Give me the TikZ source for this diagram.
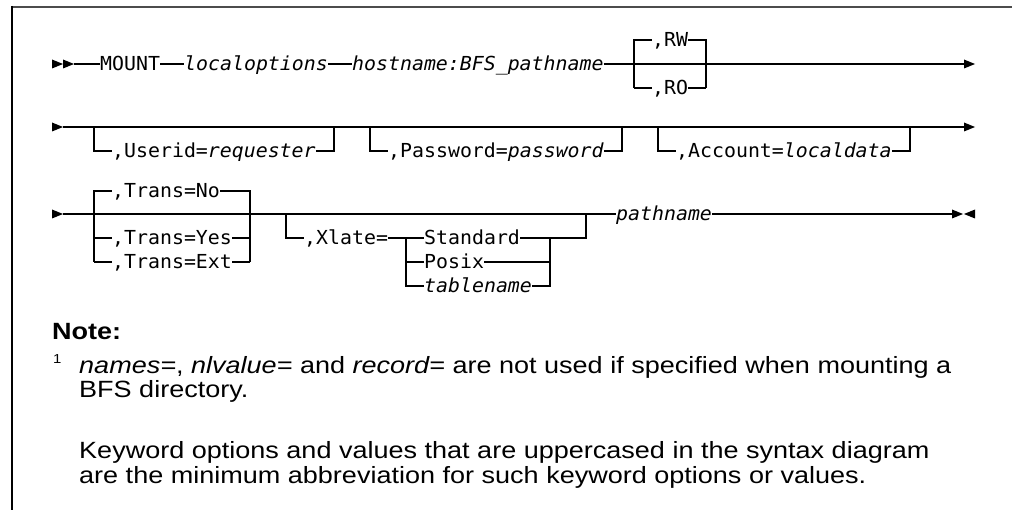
\documentclass[tikz,border=0pt]{standalone}
\usepackage{fontspec}
\setmainfont{Liberation Sans}
\newfontfamily\dmono[FakeStretch=1.03]{DejaVu Sans Mono}
\newfontfamily\notefont[FakeStretch=1.15]{Liberation Sans}
\newcommand\rtri[2]{\fill (#1,#2-4.5) -- (#1+11,#2) -- (#1,#2+4.5) -- cycle;}
\newcommand\ltri[2]{\fill (#1,#2-4.5) -- (#1-11,#2) -- (#1,#2+4.5) -- cycle;}
\tikzset{
  ln/.style={line width=1.1pt},
  mt/.style={font=\fontsize{19.3}{21}\dmono, inner sep=0pt, text height=14pt, text depth=0pt, anchor=west},
  nt/.style={font=\fontsize{23.5}{26}\notefont, inner sep=0pt, anchor=base west},
}
\begin{document}
\begin{tikzpicture}[x=1pt,y=-1pt]
\useasboundingbox (0,0) rectangle (1012,510);
% frame
\draw[line width=2.5pt, black!70] (11.3,7) -- (1012,7);
\draw[line width=1.3pt] (12,6) -- (12,510);

% ---------- row 1 ----------
\rtri{52}{64}\rtri{63}{64}
\coordinate (st1) at (74,64);
\coordinate (a1) at (964,64);
\rtri{964}{64}
\node[mt] (mount) at (100,64) {MOUNT};
\node[mt] (lopt) at (184,64) {\itshape localoptions};
\node[mt] (host) at (352,64) {\itshape hostname:BFS\_pathname};
\draw[ln] (st1) -- (mount);
\draw[ln] (mount) -- (lopt);
\draw[ln] (lopt) -- (host);
\draw[ln] (host) -- (a1);
\coordinate (b1tl) at (634,40); \coordinate (b1bl) at (634,88);
\coordinate (b1tr) at (706,40); \coordinate (b1br) at (706,88);
\node[mt] (rw) at (652,40) {,RW};
\node[mt] (ro) at (652,88) {,RO};
\draw[ln] (b1bl) -- (b1tl) -- (rw);
\draw[ln] (rw) -- (b1tr) -- (b1br);
\draw[ln] (b1bl) -- (ro);
\draw[ln] (ro) -- (b1br);

% ---------- row 2 ----------
\rtri{52}{127}
\coordinate (st2) at (63,127);
\coordinate (a2) at (964,127);
\rtri{964}{127}
\draw[ln] (st2) -- (a2);
\coordinate (u1) at (94,127); \coordinate (u2) at (94,151);
\coordinate (u3) at (334,151); \coordinate (u4) at (334,127);
\node[mt] (uid) at (112,151) {,Userid=\itshape requester};
\draw[ln] (u1) -- (u2) -- (uid);
\draw[ln] (uid) -- (u3) -- (u4);
\coordinate (p1) at (370,127); \coordinate (p2) at (370,151);
\coordinate (p3) at (622,151); \coordinate (p4) at (622,127);
\node[mt] (pwd) at (388,151) {,Password=\itshape password};
\draw[ln] (p1) -- (p2) -- (pwd);
\draw[ln] (pwd) -- (p3) -- (p4);
\coordinate (c1) at (658,127); \coordinate (c2) at (658,151);
\coordinate (c3) at (910,151); \coordinate (c4) at (910,127);
\node[mt] (acc) at (676,151) {,Account=\itshape localdata};
\draw[ln] (c1) -- (c2) -- (acc);
\draw[ln] (acc) -- (c3) -- (c4);

% ---------- row 3 ----------
\rtri{52}{214}
\coordinate (st3) at (63,214);
\coordinate (a3) at (952,214);
\rtri{952}{214}\ltri{975}{214}
\node[mt] (pathn) at (616,214) {\itshape pathname};
\draw[ln] (st3) -- (pathn);
\draw[ln] (pathn) -- (a3);
% Trans
\coordinate (t1t) at (94,191); \coordinate (t1y) at (94,238); \coordinate (t1b) at (94,262);
\coordinate (t2t) at (250,191); \coordinate (t2y) at (250,238); \coordinate (t2b) at (250,262);
\node[mt] (tno) at (112,191) {,Trans=No};
\node[mt] (tyes) at (112,238) {,Trans=Yes};
\node[mt] (text) at (112,262) {,Trans=Ext};
\draw[ln] (t1b) -- (t1t) -- (tno);
\draw[ln] (tno) -- (t2t) -- (t2b);
\draw[ln] (t1y) -- (tyes);
\draw[ln] (tyes) -- (t2y);
\draw[ln] (t1b) -- (text);
\draw[ln] (text) -- (t2b);
% Xlate
\coordinate (x1t) at (286,214); \coordinate (x1b) at (286,238);
\node[mt] (xl) at (304,238) {,Xlate=};
\coordinate (x2t) at (406,238); \coordinate (x2m) at (406,262); \coordinate (x2b) at (406,286);
\node[mt] (std) at (424,238) {Standard};
\node[mt] (pos) at (424,262) {Posix};
\node[mt] (tbl) at (424,286) {\itshape tablename};
\coordinate (x3t) at (550,238); \coordinate (x3m) at (550,262); \coordinate (x3b) at (550,286);
\coordinate (x4b) at (586,238); \coordinate (x4t) at (586,214);
\draw[ln] (x1t) -- (x1b) -- (xl);
\draw[ln] (xl) -- (std);
\draw[ln] (x2t) -- (x2b) -- (tbl);
\draw[ln] (x2m) -- (pos);
\draw[ln] (std) -- (x4b) -- (x4t);
\draw[ln] (pos) -- (x3m);
\draw[ln] (tbl) -- (x3b) -- (x3t);

% ---------- note ----------
\node[nt, font=\fontsize{23.5}{26}\notefont\bfseries] (note) at (52,340) {Note:};
\node[nt, font=\fontsize{13}{14}\notefont] (fn) at (53,364) {1};
\node[nt] (n1) at (79,374) {\textit{names=}, \textit{nlvalue=} and \textit{record=} are not used if specified when mounting a};
\node[nt] (n2) at (79,398) {BFS directory.};
\node[nt] (n3) at (79,458) {Keyword options and values that are uppercased in the syntax diagram};
\node[nt] (n4) at (79,483) {are the minimum abbreviation for such keyword options or values.};
\end{tikzpicture}
\end{document}
